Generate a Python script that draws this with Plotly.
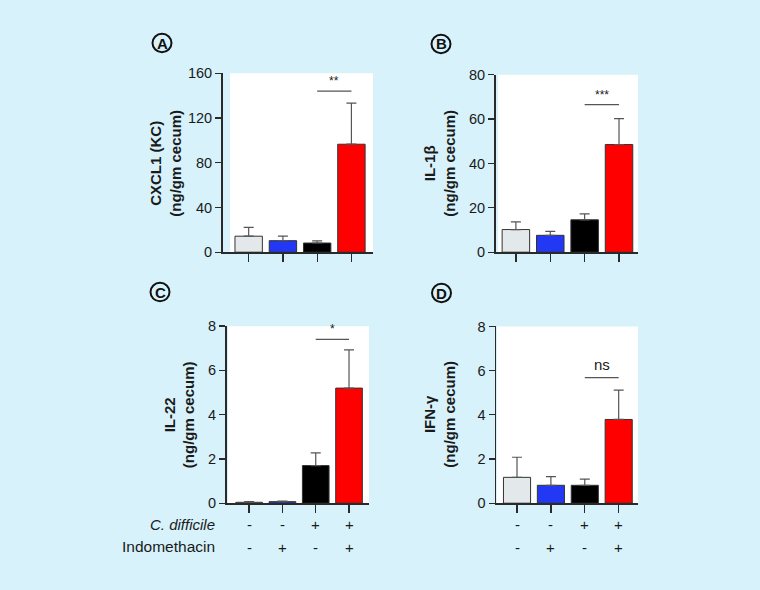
import plotly.graph_objects as go

# ---------------- data ----------------
groups = ["Ctrl", "Indo", "Cdiff", "Cdiff+Indo"]
cdiff_row = ["-", "-", "+", "+"]
indo_row = ["-", "+", "-", "+"]
bar_colors = ["#e3e8ea", "#2338f5", "#000000", "#ff0000"]

cxcl1_mean = [14.3, 10.3, 8.2, 96.5]
cxcl1_err = [7.9, 4.0, 2.0, 36.8]
il1b_mean = [10.2, 7.6, 14.6, 48.5]
il1b_err = [3.5, 1.8, 2.7, 11.7]
il22_mean = [0.04, 0.07, 1.7, 5.2]
il22_err = [0.03, 0.03, 0.57, 1.73]
ifng_mean = [1.17, 0.81, 0.81, 3.79]
ifng_err = [0.91, 0.39, 0.28, 1.33]

ticks_a = [0, 40, 80, 120, 160]
ticks_b = [0, 20, 40, 60, 80]
ticks_cd = [0, 2, 4, 6, 8]

sig_labels = ["**", "***", "*", "ns"]
sig_levels = [144, 66.5, 7.4, 5.68]

titles = ["<b>CXCL1 (KC)<br>(ng/gm cecum)</b>",
          "<b>IL-1β<br>(ng/gm cecum)</b>",
          "<b>IL-22<br>(ng/gm cecum)</b>",
          "<b>IFN-γ<br>(ng/gm cecum)</b>"]
letters = ["A", "B", "C", "D"]

# ---------------- layout geometry (pixels) ----------------
W, H = 760, 590
BG = "#d7f2fa"
AX = "#2a2a2a"
FONT = "Liberation Sans, Arial, sans-serif"

panels = [
    dict(ax=222.5, right=373, wl=230, yb=251, yt=67, xr=[-0.764, 3.63], yr=[0, 160],
         ticks=ticks_a, tx=166, ty=160, lx=162, ly=36),
    dict(ax=495.5, right=638, wl=498, yb=251, yt=68.5, xr=[-0.593, 3.552], yr=[0, 80],
         ticks=ticks_b, tx=440, ty=160, lx=441, ly=37),
    dict(ax=226.5, right=369, wl=228, yb=509, yt=327, xr=[-0.68, 3.6], yr=[0, 8],
         ticks=ticks_cd, tx=179.5, ty=418, lx=160, ly=292),
    dict(ax=496, right=638, wl=497, yb=509, yt=327.3, xr=[-0.62, 3.57], yr=[0, 8],
         ticks=ticks_cd, tx=440, ty=418, lx=441.5, ly=293),
]
means = [cxcl1_mean, il1b_mean, il22_mean, ifng_mean]
errs = [cxcl1_err, il1b_err, il22_err, ifng_err]


def px(x):
    return x / W


def py(y):
    return 1 - y / H


fig = go.Figure()
layout = dict(width=W, height=H, autosize=False,
              margin=dict(l=0, r=0, t=0, b=0),
              paper_bgcolor=BG, plot_bgcolor="rgba(0,0,0,0)",
              showlegend=False, bargap=0.2,
              font=dict(family=FONT, color="#1a1a1a"))
shapes = []
annotations = []

for i, p in enumerate(panels):
    n = "" if i == 0 else str(i + 1)
    xa, ya = "x" + n, "y" + n
    fig.add_trace(go.Bar(
        x=groups, y=means[i], xaxis=xa, yaxis=ya, width=0.8,
        marker=dict(color=bar_colors, line=dict(color="#333333", width=1)),
        error_y=dict(type="data", symmetric=False, array=errs[i],
                     arrayminus=[0] * 4, color="#555555", thickness=1.2, width=5),
        hoverinfo="skip"))
    layout["xaxis" + n] = dict(
        domain=[px(p["ax"]), px(p["right"])], anchor=ya, type="category",
        range=p["xr"], showline=True, linecolor=AX, linewidth=1.5,
        ticks="outside", ticklen=8, tickcolor=AX, tickwidth=1.3,
        showticklabels=False, showgrid=False, zeroline=False, fixedrange=True)
    layout["yaxis" + n] = dict(
        domain=[py(p["yb"]), py(p["yt"])], anchor=xa, range=p["yr"],
        tickvals=p["ticks"], showline=True, linecolor=AX, linewidth=1.5,
        ticks="outside", ticklen=6, tickcolor=AX, tickwidth=1.3,
        tickfont=dict(size=14.5, family=FONT, color="#1a1a1a"),
        showgrid=False, zeroline=False, fixedrange=True)
    shapes.append(dict(type="rect", xref="paper", yref="paper",
                       x0=px(p["wl"]), x1=px(p["right"]),
                       y0=py(p["yb"]), y1=py(p["yt"]),
                       fillcolor="white", line=dict(width=0), layer="below"))
    shapes.append(dict(type="line", xref=xa, yref=ya, x0=groups[2], x1=groups[3],
                       y0=sig_levels[i], y1=sig_levels[i],
                       line=dict(color="#555555", width=1.2)))
    annotations.append(dict(xref=xa, yref=ya, x=2.5, y=sig_levels[i],
                            text=sig_labels[i], showarrow=False, yanchor="bottom",
                            yshift=1 if sig_labels[i] != "ns" else 3,
                            font=dict(size=12 if sig_labels[i] != "ns" else 15,
                                      family=FONT, color="#1a1a1a")))
    annotations.append(dict(xref="paper", yref="paper", x=px(p["tx"]), y=py(p["ty"]),
                            text=titles[i], showarrow=False, textangle=-90,
                            xanchor="center", yanchor="middle", align="center",
                            font=dict(size=15, family=FONT, color="#1a1a1a")))
    r = 9.5
    shapes.append(dict(type="circle", xref="paper", yref="paper",
                       x0=px(p["lx"] - r), x1=px(p["lx"] + r),
                       y0=py(p["ly"] + r), y1=py(p["ly"] - r),
                       line=dict(color="#111111", width=2), fillcolor=BG))
    annotations.append(dict(xref="paper", yref="paper", x=px(p["lx"]), y=py(p["ly"]),
                            text="<b>" + letters[i] + "</b>", showarrow=False,
                            xanchor="center", yanchor="middle",
                            font=dict(size=15, family=FONT, color="#111111")))

for i in (2, 3):
    n = str(i + 1)
    for g, c, d in zip(groups, cdiff_row, indo_row):
        annotations.append(dict(xref="x" + n, yref="paper", x=g, y=py(531),
                                text=c, showarrow=False, yanchor="middle",
                                font=dict(size=15, family=FONT, color="#1a1a1a")))
        annotations.append(dict(xref="x" + n, yref="paper", x=g, y=py(555),
                                text=d, showarrow=False, yanchor="middle",
                                font=dict(size=15, family=FONT, color="#1a1a1a")))

annotations.append(dict(xref="paper", yref="paper", x=px(217), y=py(531),
                        text="<i>C. difficile</i>", showarrow=False,
                        xanchor="right", yanchor="middle",
                        font=dict(size=15, family=FONT, color="#1a1a1a")))
annotations.append(dict(xref="paper", yref="paper", x=px(217), y=py(554),
                        text="Indomethacin", showarrow=False,
                        xanchor="right", yanchor="middle",
                        font=dict(size=15.5, family=FONT, color="#1a1a1a")))

layout["shapes"] = shapes
layout["annotations"] = annotations
fig.update_layout(**layout)
fig.write_html("out.html",
               config={"displayModeBar": False, "staticPlot": True},
               post_script="document.body.style.margin='0';"
                           "document.body.style.background='" + BG + "';")
